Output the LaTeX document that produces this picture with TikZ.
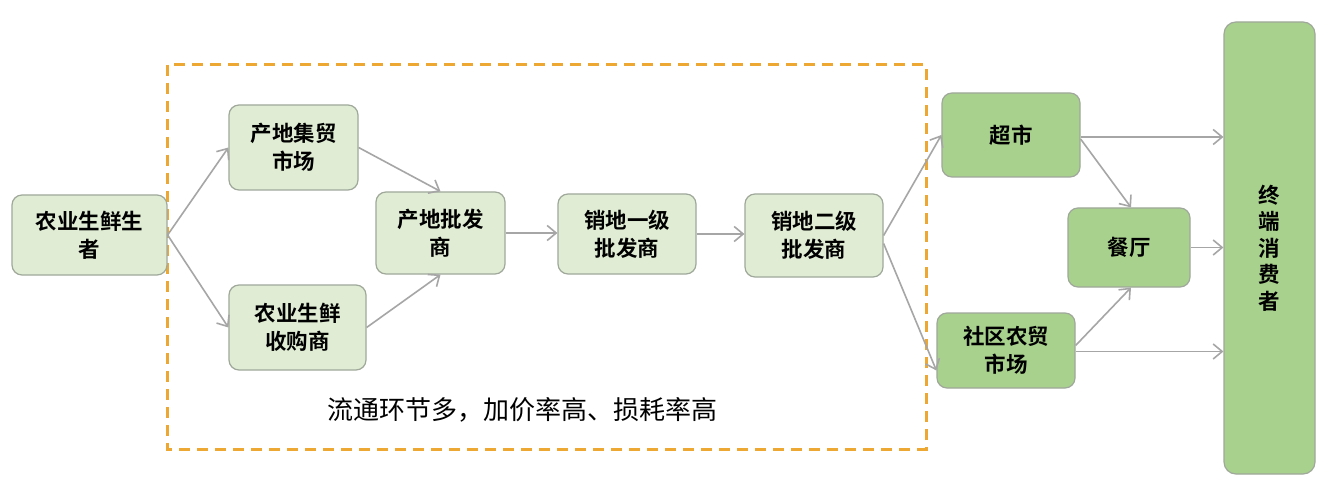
\documentclass[tikz,border=0pt]{standalone}
\usepackage{fontspec}
\setmainfont{Noto Sans CJK SC}
\newfontfamily\cjkbold{Noto Sans CJK SC Bold}
\usetikzlibrary{arrows.meta}
\definecolor{lightg}{HTML}{E0EDD4}
\definecolor{darkg}{HTML}{A9D18E}
\definecolor{edgegray}{HTML}{A6A6A6}
\definecolor{boxline}{HTML}{9FA89A}
\definecolor{dashor}{HTML}{EDA733}
\tikzset{
  lbox/.style={draw=boxline, line width=1.2pt, fill=lightg, rounded corners=10pt, align=center,
    font=\cjkbold\fontsize{21.5}{28}\selectfont, inner sep=0pt},
  dbox/.style={lbox, fill=darkg},
  conn/.style={draw=edgegray, line width=1.6pt, -{Straight Barb[length=9pt,width=15pt,line width=1.6pt]}},
  frame/.style={draw=dashor, line width=3pt, dash pattern=on 11pt off 7pt}
}
\begin{document}
\begin{tikzpicture}[x=1pt,y=-1pt]
\useasboundingbox (0,0) rectangle (1327,486);
\fill[white] (0,0) rectangle (1327,486);
\draw[frame] (167,65) rectangle (926,449);
\node[lbox, minimum width=155pt, minimum height=80pt] (prod) at (89.5,235) {农业生鲜生\\者};
\node[lbox, minimum width=129pt, minimum height=85pt] (jm) at (293.5,147.5) {产地集贸\\市场};
\node[lbox, minimum width=137pt, minimum height=85pt] (sg) at (297.5,327.5) {农业生鲜\\收购商};
\node[lbox, minimum width=129pt, minimum height=82pt] (pf) at (440.5,233) {产地批发\\商};
\node[lbox, minimum width=138pt, minimum height=80pt] (y1) at (627,234) {销地一级\\批发商};
\node[lbox, minimum width=138pt, minimum height=83pt] (y2) at (814,235.5) {销地二级\\批发商};
\node[dbox, minimum width=138pt, minimum height=84pt] (cs) at (1011,135) {超市};
\node[dbox, minimum width=122pt, minimum height=79pt] (ct) at (1129,247.5) {餐厅};
\node[dbox, minimum width=138pt, minimum height=75pt] (sq) at (1006,350.5) {社区农贸\\市场};
\node[dbox, minimum width=91pt, minimum height=452pt, rounded corners=12pt,
  font=\cjkbold\fontsize{21.5}{26.5}\selectfont] (cons) at (1269.5,248) {终\\端\\消\\费\\者};
\node[font=\fontsize{26}{30}\selectfont] (note) at (522,410) {流通环节多，加价率高、损耗率高};
\draw[conn] (prod.east) -- (jm.west);
\draw[conn] (prod.east) -- (sg.west);
\draw[conn] (jm.east) -- (pf.north);
\draw[conn] (sg.east) -- (pf.south);
\draw[conn] (pf.east) -- (pf.east -| y1.west);
\draw[conn] (y1.east) -- (y1.east -| y2.west);
\draw[conn] (y2.east) -- (cs.west);
\draw[conn] ([yshift=-8pt]y2.east) -- ([yshift=-20pt]sq.west);
\draw[conn] ([yshift=-2pt]cs.east) -- ([yshift=-2pt]cs.east -| cons.west);
\draw[conn] ([yshift=-4pt]cs.east) -- ([xshift=2pt]ct.north);
\draw[conn] ([yshift=5pt]sq.east) -- ([xshift=2pt]ct.south);
\draw[conn] (ct.east) -- (ct.east -| cons.west);
\draw[conn] ([yshift=-1pt]sq.east) -- ([yshift=-1pt]sq.east -| cons.west);
\end{tikzpicture}
\end{document}
